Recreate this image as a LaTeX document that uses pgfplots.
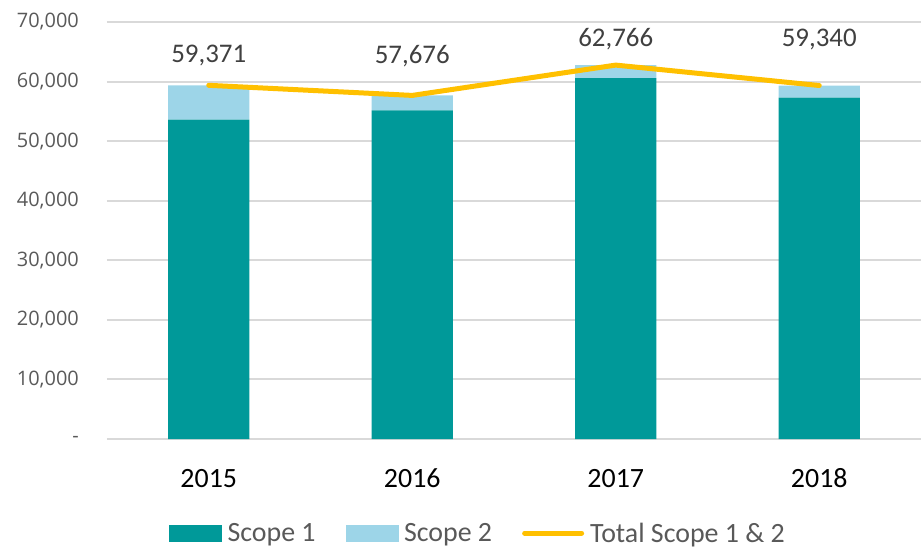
\documentclass[border=0pt]{standalone}
\usepackage{pgfplots}
\pgfplotsset{compat=1.18}
\usepackage{fontspec}
\setmainfont{Carlito}
\newfontfamily\ticksfont{Open Sans}

\definecolor{scopeone}{RGB}{0,153,153}
\definecolor{scopetwo}{RGB}{157,213,232}
\definecolor{totalline}{RGB}{255,192,0}
\definecolor{gridgray}{RGB}{217,217,217}
\definecolor{tickgray}{RGB}{89,89,89}
\definecolor{labelgray}{RGB}{64,64,64}

\pgfplotsset{
  base/.style={
    scale only axis, width=814bp, height=417bp,
    at={(0,0)}, anchor=south west,
    xmin=-0.5, xmax=3.5, ymin=0, ymax=70000,
  },
}

\begin{document}
\begin{tikzpicture}
\path[use as bounding box] (-107bp,-111bp) rectangle (814bp,439bp);

\begin{axis}[
    base,
    ybar stacked,
    bar width=0.4,
    axis line style={draw=none},
    tick style={draw=none},
    ymajorgrids,
    grid style={line width=2bp, draw=gridgray},
    scaled y ticks=false,
    xtick={0,1,2,3},
    xticklabels={2015,2016,2017,2018},
    xticklabel style={font=\fontsize{28}{30}\selectfont, text=black, inner sep=0pt, anchor=base, yshift=-48bp},
    ytick={0,10000,20000,30000,40000,50000,60000,70000},
    yticklabels={{-\hspace{12bp}},{10,000},{20,000},{30,000},{40,000},{50,000},{60,000},{70,000}},
    yticklabel style={font=\ticksfont\fontsize{20}{24}\selectfont, text=tickgray, inner sep=0pt, anchor=east, xshift=-28bp},
]
\addplot[fill=scopeone, draw=none] coordinates {(0,53600) (1,55180) (2,60560) (3,57310)};
\addplot[fill=scopetwo, draw=none] coordinates {(0,5771) (1,2496) (2,2206) (3,2030)};
\end{axis}

\begin{axis}[
    base,
    hide axis,
    clip=false,
    legend columns=-1,
    legend style={
      at={(0.0725,-0.226)}, anchor=west, draw=none, fill=none,
      font=\fontsize{28}{30}\selectfont, text=tickgray,
      nodes={inner sep=2bp},
      /tikz/every odd column/.append style={column sep=4bp},
      /tikz/every even column/.append style={column sep=28bp},
    },
]
\addlegendimage{legend image code/.code={\fill[scopeone] (0bp,-8bp) rectangle (52bp,8bp);}}
\addlegendentry{Scope 1}
\addlegendimage{legend image code/.code={\fill[scopetwo] (0bp,-8bp) rectangle (52bp,8bp);}}
\addlegendentry{Scope 2}
\addplot[totalline, line width=5bp, line cap=round, line join=round,
  legend image code/.code={\draw[totalline, line width=5bp, line cap=round] (0bp,0bp) -- (57bp,0bp);}]
  coordinates {(0,59371) (1,57676) (2,62766) (3,59340)};
\addlegendentry{Total Scope 1 \& 2}

\begin{scope}[every node/.style={font=\fontsize{27}{30}\selectfont, text=labelgray, inner sep=0pt}]
\node at (axis cs:0,64300) {59,371};
\node at (axis cs:1,64300) {57,676};
\node at (axis cs:2,67050) {62,766};
\node at (axis cs:3,67000) {59,340};
\end{scope}
\end{axis}
\end{tikzpicture}
\end{document}
